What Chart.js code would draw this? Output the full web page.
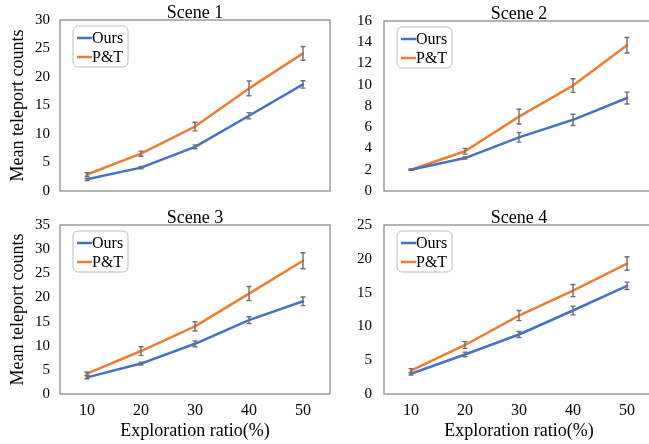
<!DOCTYPE html>
<html>
<head>
<meta charset="utf-8">
<script src="https://cdn.jsdelivr.net/npm/chart.js@4/dist/chart.umd.min.js"></script>
<style>
html,body{margin:0;padding:0;background:#fff;overflow:hidden;width:649px;height:444px;}
canvas{position:absolute;left:0;top:0;}
</style>
</head>
<body>
<canvas id="c1" width="680" height="444"></canvas>
<canvas id="c2" width="680" height="444"></canvas>
<canvas id="c3" width="680" height="444"></canvas>
<canvas id="c4" width="680" height="444"></canvas>
<script>
// ---- data ----
const categories = ['10', '20', '30', '40', '50'];
const seriesNames = ['Ours', 'P&T'];
const sceneTitles = ['Scene 1', 'Scene 2', 'Scene 3', 'Scene 4'];

const scene1Ours = [2.05, 4.1, 7.75, 13.2, 18.7];
const scene1PT   = [2.9, 6.55, 11.3, 18.0, 24.15];
const scene1OursErr = [0.2, 0.2, 0.35, 0.55, 0.65];
const scene1PTErr   = [0.3, 0.45, 0.75, 1.3, 1.2];

const scene2Ours = [2.0, 3.1, 5.05, 6.7, 8.75];
const scene2PT   = [2.0, 3.74, 7.0, 9.92, 13.72];
const scene2OursErr = [0.05, 0.1, 0.45, 0.53, 0.56];
const scene2PTErr   = [0.05, 0.27, 0.69, 0.64, 0.73];

const scene3Ours = [3.45, 6.3, 10.4, 15.3, 19.2];
const scene3PT   = [4.2, 8.9, 14.0, 20.8, 27.6];
const scene3OursErr = [0.3, 0.3, 0.6, 0.7, 0.9];
const scene3PTErr   = [0.3, 0.9, 0.95, 1.45, 1.65];

const scene4Ours = [3.0, 5.85, 8.8, 12.35, 16.0];
const scene4PT   = [3.45, 7.25, 11.6, 15.3, 19.3];
const scene4OursErr = [0.2, 0.35, 0.45, 0.65, 0.55];
const scene4PTErr   = [0.3, 0.5, 0.75, 0.9, 1.0];

const yMax  = [30, 16, 35, 25];
const yStep = [5, 2, 5, 5];
const yTitle = 'Mean teleport counts';
const xTitle = 'Exploration ratio(%)';

// ---- style / layout ----
const FONT = '"Liberation Serif", "Times New Roman", serif';
const BLUE = '#4472C4', ORANGE = '#ED7D31';
const CW = 680, CH = 444;
const areas = [
  {L: 60,  T: 20,  R: 330, B: 191, left: true,  bottom: false},
  {L: 384, T: 20,  R: 654, B: 191, left: false, bottom: false},
  {L: 60,  T: 225, R: 330, B: 394, left: true,  bottom: true},
  {L: 384, T: 225, R: 654, B: 394, left: false, bottom: true}
];
const sceneData = [
  [scene1Ours, scene1PT, scene1OursErr, scene1PTErr],
  [scene2Ours, scene2PT, scene2OursErr, scene2PTErr],
  [scene3Ours, scene3PT, scene3OursErr, scene3PTErr],
  [scene4Ours, scene4PT, scene4OursErr, scene4PTErr]
];

const decorPlugin = {
  id: 'decor',
  afterDatasetsDraw(chart, args, opts) {
    const ctx = chart.ctx, a = chart.chartArea, ys = chart.scales.y;
    ctx.save();
    // frame
    ctx.strokeStyle = '#8c8c8c';
    ctx.lineWidth = 1.3;
    ctx.strokeRect(a.left, a.top, a.right - a.left, a.bottom - a.top);
    // error bars
    ctx.strokeStyle = '#707070';
    ctx.lineWidth = 1.4;
    chart.data.datasets.forEach((ds, di) => {
      const meta = chart.getDatasetMeta(di);
      ds.errors.forEach((e, i) => {
        const pt = meta.data[i];
        const v = ds.data[i];
        const y1 = ys.getPixelForValue(v + e), y2 = ys.getPixelForValue(v - e);
        const x = pt.x;
        ctx.beginPath();
        ctx.moveTo(x, y1); ctx.lineTo(x, y2);
        ctx.moveTo(x - 2.5, y1); ctx.lineTo(x + 2.5, y1);
        ctx.moveTo(x - 2.5, y2); ctx.lineTo(x + 2.5, y2);
        ctx.stroke();
      });
    });
    // title
    ctx.fillStyle = '#000';
    ctx.font = '18px ' + FONT;
    ctx.textAlign = 'center';
    ctx.textBaseline = 'alphabetic';
    ctx.fillText(opts.title, (a.left + a.right) / 2, a.top - 2);
    // legend
    const lx = a.left + 13, ly = a.top + 6, lw = 55, lh = 41;
    ctx.beginPath();
    ctx.roundRect(lx, ly, lw, lh, 5);
    ctx.fillStyle = '#fff';
    ctx.fill();
    ctx.strokeStyle = '#bdbdbd';
    ctx.lineWidth = 1;
    ctx.stroke();
    ctx.font = '16px ' + FONT;
    ctx.textAlign = 'left';
    ctx.textBaseline = 'middle';
    chart.data.datasets.forEach((ds, di) => {
      const yy = ly + 12 + di * 19;
      ctx.strokeStyle = ds.borderColor;
      ctx.lineWidth = 2.5;
      ctx.beginPath();
      ctx.moveTo(lx + 4, yy); ctx.lineTo(lx + 19, yy);
      ctx.stroke();
      ctx.fillStyle = '#000';
      ctx.fillText(ds.label, lx + 19, yy + 1);
    });
    ctx.restore();
  }
};

areas.forEach((ar, k) => {
  const d = sceneData[k];
  const xH = ar.bottom ? 50 : 0;
  new Chart(document.getElementById('c' + (k + 1)), {
    type: 'line',
    data: {
      labels: categories,
      datasets: [
        {label: seriesNames[0], data: d[0], errors: d[2], borderColor: BLUE, backgroundColor: BLUE},
        {label: seriesNames[1], data: d[1], errors: d[3], borderColor: ORANGE, backgroundColor: ORANGE}
      ]
    },
    options: {
      responsive: false,
      animation: false,
      devicePixelRatio: 1,
      layout: {padding: {left: ar.L - 60, top: ar.T, right: CW - ar.R, bottom: CH - ar.B - xH}},
      elements: {
        line: {borderWidth: 2.5, tension: 0, borderCapStyle: 'round', borderJoinStyle: 'round'},
        point: {radius: 0, hoverRadius: 0}
      },
      plugins: {
        legend: {display: false},
        tooltip: {enabled: false},
        decor: {title: sceneTitles[k]}
      },
      scales: {
        x: {
          type: 'category',
          offset: true,
          grid: {display: false, drawTicks: false},
          border: {display: false},
          ticks: {display: ar.bottom, padding: 7, color: '#000', font: {family: FONT, size: 16}},
          title: {display: ar.bottom, text: xTitle, color: '#000', font: {family: FONT, size: 18}, padding: {top: 0, bottom: 2}},
          afterFit(s) { s.height = xH; }
        },
        y: {
          min: 0, max: yMax[k],
          grid: {display: false, drawTicks: false},
          border: {display: false},
          ticks: {stepSize: yStep[k], padding: ar.left ? 10 : 12, color: '#000', font: {family: FONT, size: 15}},
          title: {display: ar.left, text: yTitle, color: '#000', font: {family: FONT, size: 18}, padding: {top: 7, bottom: 0}},
          afterFit(s) { s.width = 60; }
        }
      }
    },
    plugins: [decorPlugin]
  });
});
</script>
</body>
</html>
